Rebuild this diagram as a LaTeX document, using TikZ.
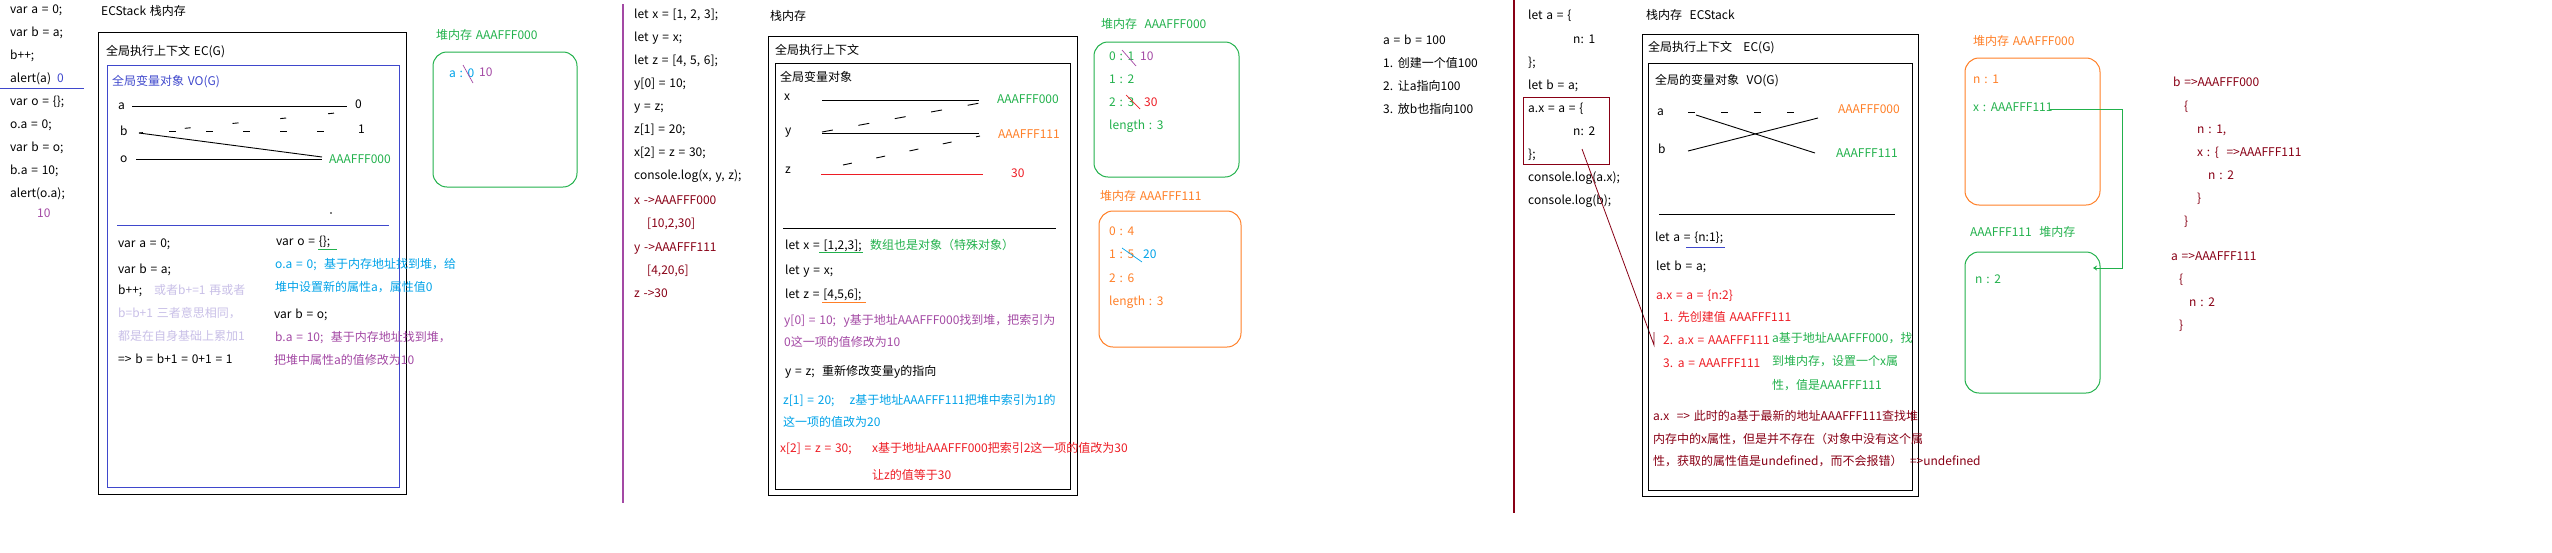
\documentclass[tikz,border=0pt]{standalone}
\usepackage{fontspec}
\setmainfont{Noto Sans CJK SC}[WordSpace=1.4]
\usetikzlibrary{arrows.meta}
\definecolor{cblue}{HTML}{3F48CC}
\definecolor{cgreen}{HTML}{22B14C}
\definecolor{ccyan}{HTML}{00A2E8}
\definecolor{cpurple}{HTML}{A349A4}
\definecolor{clav}{HTML}{C8BFE7}
\definecolor{corange}{HTML}{FF7F27}
\definecolor{cred}{HTML}{ED1C24}
\definecolor{cdred}{HTML}{880015}
\newcommand\myfs{\fontsize{12}{14}\selectfont}
\newcommand\rbox[6]{\node[#6, minimum width={#4-#2}, minimum height={#5-#3}] (#1) at ({(#2+#4)/2},{(#3+#5)/2}) {};}
\tikzset{
  tx/.style={anchor=west, inner sep=0pt, text height=9pt, text depth=3pt, font=\myfs},
  frame/.style={draw, line width=1pt, inner sep=0pt, outer sep=0pt},
  heap/.style={draw, line width=1pt, inner sep=0pt, outer sep=0pt, rounded corners=14pt},
  ln/.style={line width=0.9pt},
  strike/.style={line width=0.7pt},
}
\begin{document}
\begin{tikzpicture}[x=1pt,y=-1pt]
\useasboundingbox (0,0) rectangle (2552,552);
% ================= Panel 1 =================
\node[tx] (p1c1) at (10,10) {var a = 0;};
\node[tx] (p1c2) at (10,33) {var b = a;};
\node[tx] (p1c3) at (10,56) {b++;};
\node[tx] (p1c4) at (10,79) {alert(a)};
\node[tx, text=cblue] (p1c4v) at (57,79) {0};
\coordinate (p1s1) at (0,88); \coordinate (p1s2) at (84,88);
\draw[cblue, line width=1pt] (p1s1) -- (p1s2);
\node[tx] (p1c5) at (10,102) {var o = \{\};};
\node[tx] (p1c6) at (10,125) {o.a = 0;};
\node[tx] (p1c7) at (10,148) {var b = o;};
\node[tx] (p1c8) at (10,171) {b.a = 10;};
\node[tx] (p1c9) at (10,194) {alert(o.a);};
\node[tx, text=cpurple] (p1c10) at (37,214) {10};

\node[tx] (p1h) at (101,12) {ECStack 栈内存};
\rbox{p1ob}{98}{32}{406}{494}{frame}
\node[tx] (p1ec) at (106,52) {全局执行上下文 EC(G)};
\rbox{p1vb}{107}{65}{399}{487}{frame, draw=cblue}
\node[tx, text=cblue] (p1vo) at (112,82) {全局变量对象 VO(G)};
\node[tx] (p1a) at (118,106) {a};
\node[tx] (p1b) at (120,132) {b};
\node[tx] (p1o) at (120,159) {o};
\node[tx] (p1v0) at (355,105) {0};
\node[tx] (p1v1) at (358,130) {1};
\node[tx, text=cgreen] (p1vA) at (329,160) {AAAFFF000};
\coordinate (p1a1) at (132,106); \coordinate (p1a2) at (347,106);
\coordinate (p1b1) at (139,133); \coordinate (p1b2) at (322,157);
\coordinate (p1o1) at (136,159); \coordinate (p1o2) at (322,159);
\coordinate (p1d1) at (139,133); \coordinate (p1d2) at (345,112);
\coordinate (p1e1) at (169,131); \coordinate (p1e2) at (350,131);
\draw[ln] (p1a1) -- (p1a2);
\draw[ln] (p1b1) -- (p1b2);
\draw[ln] (p1o1) -- (p1o2);
\draw[ln, dash pattern=on 6pt off 42pt, dash phase=50pt] (p1d1) -- (p1d2);
\draw[ln, dash pattern=on 7pt off 30pt] (p1e1) -- (p1e2);
\fill (331,213) circle (0.8pt);
\coordinate (p1l1) at (117,225); \coordinate (p1l2) at (389,225);
\draw[cblue, line width=1pt] (p1l1) -- (p1l2);
\node[tx] (p1t1) at (118,244) {var a = 0;};
\node[tx] (p1t2) at (118,270) {var b = a;};
\node[tx] (p1t3) at (118,291) {b++;};
\node[tx, text=clav] (p1t3b) at (154,291) {或者b+=1 再或者};
\node[tx, text=clav] (p1t4) at (118,314) {b=b+1 三者意思相同，};
\node[tx, text=clav] (p1t5) at (118,337) {都是在自身基础上累加1};
\node[tx] (p1t6) at (118,360) {=> b = b+1 = 0+1 = 1};
\node[tx] (p1r1) at (276,242) {var o = \{\};};
\coordinate (p1u1) at (318,249); \coordinate (p1u2) at (337,249);
\draw[cgreen, line width=1pt] (p1u1) -- (p1u2);
\node[tx, text=ccyan] (p1r2) at (275,265) {o.a = 0;~~基于内存地址找到堆，给};
\node[tx, text=ccyan] (p1r3) at (275,288) {堆中设置新的属性a，属性值0};
\node[tx] (p1r4) at (274,315) {var b = o;};
\node[tx, text=cpurple] (p1r5) at (275,338) {b.a = 10;~~基于内存地址找到堆，};
\node[tx, text=cpurple] (p1r6) at (274,361) {把堆中属性a的值修改为10};
% heap 1
\node[tx, text=cgreen] (p1hh) at (436,36) {堆内存 AAAFFF000};
\rbox{p1hb}{433}{52}{577}{187}{heap, draw=cgreen}
\node[tx, text=ccyan] (p1ha) at (449,74) {a : 0};
\coordinate (p1k1) at (463,65); \coordinate (p1k2) at (473,83);
\draw[cpurple, strike] (p1k1) -- (p1k2);
\node[tx, text=cpurple] (p1h10) at (479,73) {10};
% separator
\coordinate (sep1a) at (623,4); \coordinate (sep1b) at (623,503);
\draw[cpurple, line width=1.2pt] (sep1a) -- (sep1b);
% ================= Panel 2 =================
\node[tx] (p2c1) at (634,15) {let x = [1, 2, 3];};
\node[tx] (p2c2) at (634,38) {let y = x;};
\node[tx] (p2c3) at (634,61) {let z = [4, 5, 6];};
\node[tx] (p2c4) at (634,84) {y[0] = 10;};
\node[tx] (p2c5) at (634,107) {y = z;};
\node[tx] (p2c6) at (634,130) {z[1] = 20;};
\node[tx] (p2c7) at (634,153) {x[2] = z = 30;};
\node[tx] (p2c8) at (634,176) {console.log(x, y, z);};
\node[tx, text=cdred] (p2c9) at (634,201) {x ->AAAFFF000};
\node[tx, text=cdred] (p2c10) at (647,224) {[10,2,30]};
\node[tx, text=cdred] (p2c11) at (634,248) {y ->AAAFFF111};
\node[tx, text=cdred] (p2c12) at (647,271) {[4,20,6]};
\node[tx, text=cdred] (p2c13) at (634,294) {z ->30};

\node[tx] (p2h) at (770,17) {栈内存};
\rbox{p2ob}{768}{36}{1077}{495}{frame}
\rbox{p2ib}{775}{63}{1070}{489}{frame}
\node[tx] (p2ec) at (775,51) {全局执行上下文};
\node[tx] (p2vo) at (780,78) {全局变量对象};
\node[tx] (p2x) at (784,97) {x};
\node[tx] (p2y) at (785,131) {y};
\node[tx] (p2z) at (785,170) {z};
\node[tx, text=cgreen] (p2vx) at (997,100) {AAAFFF000};
\node[tx, text=corange] (p2vy) at (998,135) {AAAFFF111};
\node[tx, text=cred] (p2vz) at (1011,174) {30};
\coordinate (p2x1) at (822,100); \coordinate (p2x2) at (979,100);
\coordinate (p2y1) at (822,133); \coordinate (p2y2) at (979,133);
\coordinate (p2z1) at (821,174); \coordinate (p2z2) at (983,174);
\draw[ln] (p2x1) -- (p2x2);
\draw[ln] (p2y1) -- (p2y2);
\draw[cred, line width=1pt] (p2z1) -- (p2z2);
\coordinate (p2d1) at (822,132); \coordinate (p2d2) at (980,103);
\coordinate (p2e1) at (843,165); \coordinate (p2e2) at (980,136);
\draw[ln, dash pattern=on 11pt off 26pt] (p2d1) -- (p2d2);
\draw[ln, dash pattern=on 9pt off 25pt] (p2e1) -- (p2e2);
\coordinate (p2l1) at (783,228); \coordinate (p2l2) at (1056,228);
\draw[line width=1pt] (p2l1) -- (p2l2);
\node[tx] (p2t1) at (785,246) {let x = [1,2,3];};
\node[tx, text=cgreen] (p2t1b) at (870,246) {数组也是对象（特殊对象）};
\coordinate (p2u1) at (819,252); \coordinate (p2u2) at (863,252);
\draw[cgreen, line width=1pt] (p2u1) -- (p2u2);
\node[tx] (p2t2) at (785,271) {let y = x;};
\node[tx] (p2t3) at (785,295) {let z = [4,5,6];};
\coordinate (p2w1) at (822,302); \coordinate (p2w2) at (866,302);
\draw[corange, line width=1pt] (p2w1) -- (p2w2);
\node[tx, text=cpurple] (p2t4) at (784,321) {y[0] = 10;~~y基于地址AAAFFF000找到堆，把索引为};
\node[tx, text=cpurple] (p2t5) at (784,343) {0这一项的值修改为10};
\node[tx] (p2t6) at (785,372) {y = z;~~重新修改变量y的指向};
\node[tx, text=ccyan] (p2t7) at (783,401) {z[1] = 20;~~~~z基于地址AAAFFF111把堆中索引为1的};
\node[tx, text=ccyan] (p2t8) at (783,423) {这一项的值改为20};
\node[tx, text=cred] (p2t9) at (780,449) {x[2] = z = 30;};
\node[tx, text=cred] (p2t9b) at (872,449) {x基于地址AAAFFF000把索引2这一项的值改为30};
\node[tx, text=cred] (p2t10) at (872,476) {让z的值等于30};
% heaps 2
\node[tx, text=cgreen] (p2gh) at (1101,25) {堆内存~~AAAFFF000};
\rbox{p2gb}{1094}{42}{1239}{177}{heap, draw=cgreen}
\node[tx, text=cgreen] (p2g0) at (1109,57) {0 : 1};
\coordinate (p2k1) at (1122,50); \coordinate (p2k2) at (1136,66);
\draw[cpurple, strike] (p2k1) -- (p2k2);
\node[tx, text=cpurple] (p2g0b) at (1140,57) {10};
\node[tx, text=cgreen] (p2g1) at (1109,80) {1 : 2};
\node[tx, text=cgreen] (p2g2) at (1109,103) {2 : 3};
\coordinate (p2m1) at (1126,95); \coordinate (p2m2) at (1140,109);
\draw[cred, strike] (p2m1) -- (p2m2);
\node[tx, text=cred] (p2g2b) at (1144,103) {30};
\node[tx, text=cgreen] (p2g3) at (1109,126) {length : 3};
\node[tx, text=corange] (p2oh) at (1100,197) {堆内存 AAAFFF111};
\rbox{p2obx}{1099}{211}{1241}{347}{heap, draw=corange}
\node[tx, text=corange] (p2o0) at (1109,232) {0 : 4};
\node[tx, text=corange] (p2o1) at (1109,255) {1 : 5};
\coordinate (p2q1) at (1122,248); \coordinate (p2q2) at (1142,262);
\draw[ccyan, strike] (p2q1) -- (p2q2);
\node[tx, text=ccyan] (p2o1b) at (1143,255) {20};
\node[tx, text=corange] (p2o2) at (1109,279) {2 : 6};
\node[tx, text=corange] (p2o3) at (1109,302) {length : 3};
% a = b = 100
\node[tx] (p2n1) at (1383,41) {a = b = 100};
\node[tx] (p2n2) at (1383,64) {1. 创建一个值100};
\node[tx] (p2n3) at (1383,87) {2. 让a指向100};
\node[tx] (p2n4) at (1383,110) {3. 放b也指向100};
% separator
\coordinate (sep2a) at (1514,0); \coordinate (sep2b) at (1514,513);
\draw[cdred, line width=1.3pt] (sep2a) -- (sep2b);
% ================= Panel 3 =================
\node[tx] (p3c1) at (1528,16) {let a = \{};
\node[tx] (p3c2) at (1573,40) {n: 1};
\node[tx] (p3c3) at (1528,63) {\};};
\node[tx] (p3c4) at (1528,86) {let b = a;};
\node[tx] (p3c5) at (1528,109) {a.x = a = \{};
\node[tx] (p3c6) at (1573,132) {n: 2};
\node[tx] (p3c7) at (1528,155) {\};};
\node[tx] (p3c8) at (1528,178) {console.log(a.x);};
\node[tx] (p3c9) at (1528,201) {console.log(b);};
\rbox{p3rb}{1523}{97}{1609}{164}{frame, draw=cdred, line width=0.9pt}
\coordinate (p3r1) at (1582,149); \coordinate (p3r2) at (1654,345);
\coordinate (p3r3) at (1654,332);
\draw[cdred, line width=0.8pt] (p3r1) -- (p3r2) -- (p3r3);

\node[tx] (p3h) at (1646,16) {栈内存~~ECStack};
\rbox{p3ob}{1642}{34}{1918}{496}{frame}
\rbox{p3ib}{1648}{63}{1912}{490}{frame}
\node[tx] (p3ec) at (1648,48) {全局执行上下文~~~EC(G)};
\node[tx] (p3vo) at (1655,81) {全局的变量对象~~VO(G)};
\node[tx] (p3a) at (1657,112) {a};
\node[tx] (p3b) at (1658,150) {b};
\node[tx, text=corange] (p3va) at (1838,110) {AAAFFF000};
\node[tx, text=cgreen] (p3vb) at (1836,154) {AAAFFF111};
\coordinate (p3d1) at (1688,112); \coordinate (p3d2) at (1819,112);
\draw[ln, dash pattern=on 7pt off 26pt] (p3d1) -- (p3d2);
\coordinate (p3x1) at (1696,115); \coordinate (p3x2) at (1815,153);
\coordinate (p3y1) at (1688,151); \coordinate (p3y2) at (1818,118);
\draw[ln] (p3x1) -- (p3x2);
\draw[ln] (p3y1) -- (p3y2);
\coordinate (p3l1) at (1659,214); \coordinate (p3l2) at (1895,214);
\draw[line width=1pt] (p3l1) -- (p3l2);
\node[tx] (p3t1) at (1655,238) {let a = \{n:1\};};
\coordinate (p3u1) at (1686,247); \coordinate (p3u2) at (1725,247);
\draw[cblue, line width=1pt] (p3u1) -- (p3u2);
\node[tx] (p3t2) at (1656,267) {let b = a;};
\node[tx, text=cred] (p3t3) at (1656,296) {a.x = a = \{n:2\}};
\node[tx, text=cred] (p3t4) at (1663,318) {1. 先创建值 AAAFFF111};
\node[tx, text=cred] (p3t5) at (1663,341) {2. a.x = AAAFFF111};
\node[tx, text=cred] (p3t6) at (1663,364) {3. a = AAAFFF111};
\node[tx, text=cgreen] (p3g1) at (1772,339) {a基于地址AAAFFF000，找};
\node[tx, text=cgreen] (p3g2) at (1772,362) {到堆内存，设置一个x属};
\node[tx, text=cgreen] (p3g3) at (1772,386) {性，值是AAAFFF111};
\node[tx, text=cdred] (p3e1) at (1653,417) {a.x~~=> 此时的a基于最新的地址AAAFFF111查找堆};
\node[tx, text=cdred] (p3e2) at (1653,440) {内存中的x属性，但是并不存在（对象中没有这个属};
\node[tx, text=cdred] (p3e3) at (1653,462) {性，获取的属性值是undefined，而不会报错）~~=>undefined};
% heaps 3
\node[tx, text=corange] (p3oh) at (1973,42) {堆内存 AAAFFF000};
\rbox{p3obx}{1965}{58}{2100}{205}{heap, draw=corange}
\node[tx, text=corange] (p3on) at (1973,80) {n : 1};
\node[tx, text=cgreen] (p3ox) at (1973,108) {x : AAAFFF111};
\node[tx, text=cgreen] (p3gh) at (1970,233) {AAAFFF111~~堆内存};
\rbox{p3gbx}{1965}{252}{2100}{393}{heap, draw=cgreen}
\node[tx, text=cgreen] (p3gn) at (1975,280) {n : 2};
\coordinate (p3a1) at (2050,109); \coordinate (p3a2) at (2122,109);
\coordinate (p3a3) at (2122,268); \coordinate (p3a4) at (2093,268);
\draw[cgreen, line width=0.9pt, -{Stealth[length=4pt,width=5pt]}] (p3a1) -- (p3a2) -- (p3a3) -- (p3a4);
% right notes
\node[tx, text=cdred] (p3n1) at (2173,83) {b =>AAAFFF000};
\node[tx, text=cdred] (p3n2) at (2184,107) {\{};
\node[tx, text=cdred] (p3n3) at (2197,130) {n : 1,};
\node[tx, text=cdred] (p3n4) at (2197,153) {x : \{~~=>AAAFFF111};
\node[tx, text=cdred] (p3n5) at (2208,176) {n : 2};
\node[tx, text=cdred] (p3n6) at (2197,199) {\}};
\node[tx, text=cdred] (p3n7) at (2184,222) {\}};
\node[tx, text=cdred] (p3n8) at (2171,257) {a =>AAAFFF111};
\node[tx, text=cdred] (p3n9) at (2179,280) {\{};
\node[tx, text=cdred] (p3n10) at (2189,303) {n : 2};
\node[tx, text=cdred] (p3n11) at (2179,326) {\}};
\end{tikzpicture}
\end{document}
